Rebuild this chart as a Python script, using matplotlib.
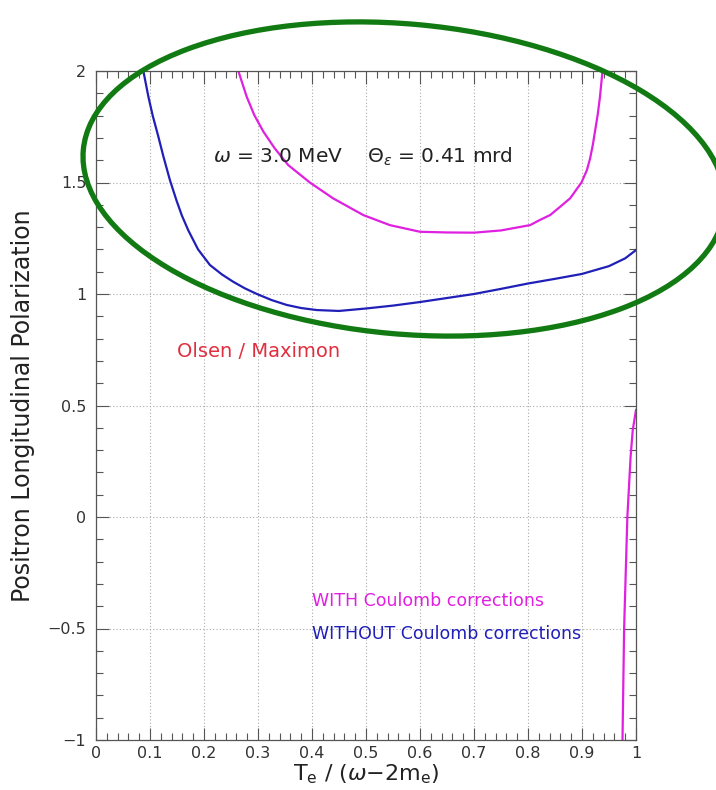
import numpy as np
import matplotlib.pyplot as plt
from matplotlib.patches import Ellipse
from matplotlib.ticker import MultipleLocator

# polarization without Coulomb corrections
x_without = [0.0877, 0.097, 0.105, 0.115, 0.125, 0.137, 0.149, 0.159, 0.171, 0.189, 0.211, 0.233,
             0.254, 0.276, 0.298, 0.325, 0.353, 0.38, 0.409, 0.45,
             0.50, 0.55, 0.60, 0.65, 0.70, 0.75, 0.80, 0.85, 0.90, 0.95, 0.98, 1.00]
y_without = [2.00, 1.885, 1.80, 1.71, 1.615, 1.51, 1.42, 1.352, 1.285, 1.20, 1.13, 1.088,
             1.055, 1.025, 1.00, 0.973, 0.951, 0.937, 0.928, 0.924,
             0.935, 0.948, 0.964, 0.982, 1.00, 1.023, 1.047, 1.068, 1.09, 1.125, 1.16, 1.197]

# polarization with Coulomb corrections (two branches)
x_with = [0.2636, 0.279, 0.293, 0.31, 0.331, 0.356, 0.396, 0.439, 0.495, 0.544, 0.60, 0.65,
          0.70, 0.75, 0.804, 0.822, 0.841, 0.856, 0.878, 0.899, 0.909, 0.915, 0.920,
          0.924, 0.929, 0.933, 0.938]
y_with = [2.00, 1.885, 1.803, 1.728, 1.653, 1.578, 1.50, 1.429, 1.354, 1.309, 1.279, 1.276,
          1.275, 1.285, 1.309, 1.332, 1.354, 1.384, 1.429, 1.50, 1.555, 1.608, 1.668,
          1.728, 1.803, 1.878, 2.00]
x_with2 = [0.975, 0.978, 0.984, 0.990, 0.994, 1.000]
y_with2 = [-1.00, -0.50, 0.00, 0.27, 0.39, 0.48]

xticks = [0, 0.1, 0.2, 0.3, 0.4, 0.5, 0.6, 0.7, 0.8, 0.9, 1]
xticklabels = ["0", "0.1", "0.2", "0.3", "0.4", "0.5", "0.6", "0.7", "0.8", "0.9", "1"]
yticks = [-1, -0.5, 0, 0.5, 1, 1.5, 2]
yticklabels = ["\u22121", "\u22120.5", "0", "0.5", "1", "1.5", "2"]

blue = "#2020b8"
magenta = "#e020e0"

fig = plt.figure(figsize=(7.16, 7.90), dpi=100)
ax = fig.add_axes([96/716, 50/790, 540/716, 669/790])

ax.plot(x_without, y_without, color=blue, lw=1.6, solid_joinstyle="round")
ax.plot(x_with, y_with, color=magenta, lw=1.6, solid_joinstyle="round")
ax.plot(x_with2, y_with2, color=magenta, lw=1.6, solid_joinstyle="round")

ax.set_xlim(0, 1)
ax.set_ylim(-1, 2)
ax.set_xticks(xticks)
ax.set_xticklabels(xticklabels)
ax.set_yticks(yticks)
ax.set_yticklabels(yticklabels)
ax.xaxis.set_minor_locator(MultipleLocator(0.02))
ax.yaxis.set_minor_locator(MultipleLocator(0.1))
ax.tick_params(which="both", direction="in", top=True, right=True,
               color="#555555", labelcolor="#333333", labelsize=11.5)
ax.tick_params(which="major", length=9, width=0.8)
ax.tick_params(which="minor", length=5, width=0.8)
ax.tick_params(axis="x", pad=4)
ax.tick_params(axis="y", pad=7)
ax.grid(True, which="major", ls=(0, (1, 2)), color="#aaaaaa", lw=0.8)
for s in ax.spines.values():
    s.set_color("#555555")
    s.set_linewidth(0.9)

ax.set_ylabel("Positron Longitudinal Polarization", fontsize=17, color="#222222", labelpad=9)
ax.set_xlabel(r"T$_\mathrm{e}$ / ($\omega$$-$2m$_\mathrm{e}$)", fontsize=16, color="#222222", labelpad=1)

ax.text(0.217, 1.614, r"$\omega$ = 3.0 MeV    $\Theta_\varepsilon$ = 0.41 mrd",
        fontsize=14.5, color="#222222", va="center")
ax.text(0.150, 0.74, "Olsen / Maximon", fontsize=14, color="#e03040", va="center")
ax.text(0.40, -0.377, "WITH Coulomb corrections", fontsize=12.5, color=magenta, va="center")
ax.text(0.40, -0.525, "WITHOUT Coulomb corrections", fontsize=12.5, color=blue, va="center")

# highlight ring drawn in pixel space over the whole figure
over = fig.add_axes([0, 0, 1, 1], facecolor="none")
over.set_xlim(0, 716)
over.set_ylim(790, 0)
over.axis("off")
over.add_patch(Ellipse((404, 179), 644, 310, angle=5.2, fill=False,
                       ec="#127a12", lw=3.8))

fig.savefig("out.png", dpi=100)
